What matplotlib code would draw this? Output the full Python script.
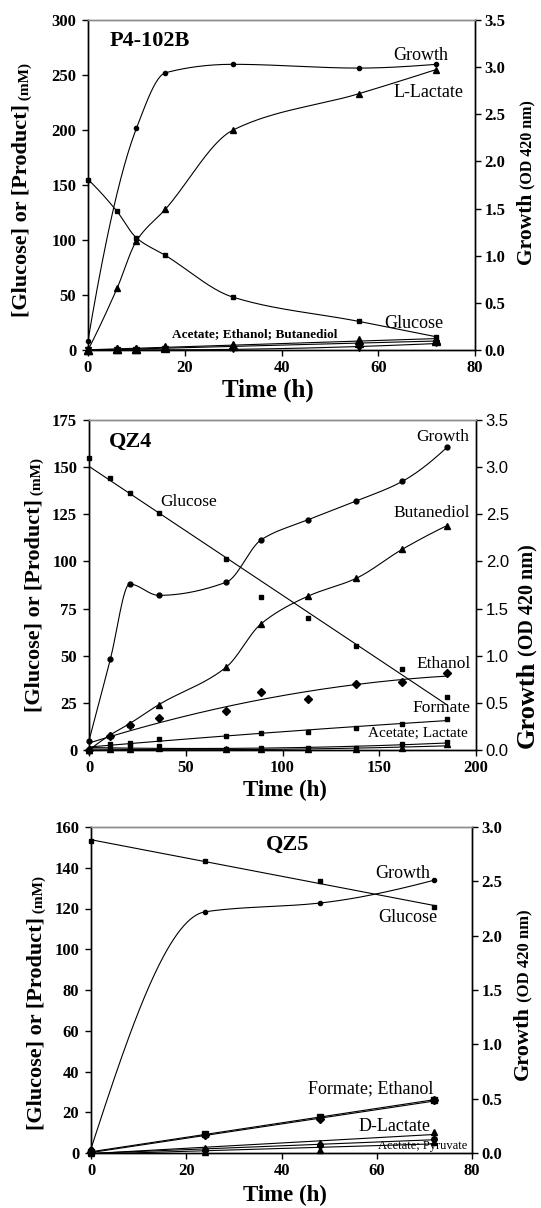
import matplotlib
matplotlib.use('Agg')
import matplotlib.pyplot as plt
import numpy as np

plt.rcParams['font.family'] = ['Liberation Serif', 'DejaVu Serif']

# ---- P4-102B (top) ----
p4_t = [0, 6, 10, 16, 30, 56, 72]
p4_growth_t = [0, 10, 16, 30, 56, 72]
p4_growth = [0.10, 2.35, 2.94, 3.03, 2.99, 3.03]
p4_glucose = [155, 126, 102, 86, 48, 26, 12]
p4_llactate = [0, 56, 99, 128, 200, 233, 255]
p4_acetate = [0, 1.0, 1.2, 2.5, 5.0, 9.0, 9.5]
p4_ethanol = [0, 0.5, 0.6, 1.5, 3.5, 6.5, 8.0]
p4_butanediol = [0, 0.2, 0.3, 0.6, 1.0, 2.0, 6.5]

# ---- QZ4 (middle) ----
qz4_t = [0, 11, 21, 36, 71, 89, 113, 138, 162, 185]
qz4_growth = [0.10, 0.96, 1.76, 1.64, 1.78, 2.23, 2.44, 2.64, 2.85, 3.21]
qz4_glucose = [155, 144, 136.5, 125.5, 101.5, 81, 70, 55, 43, 28]
qz4_butanediol = [0, 8, 14, 24, 44, 67, 81.5, 91, 106.5, 119]
qz4_ethanol = [0, 7.5, 13, 17, 20.5, 30.5, 27, 35, 36, 41]
qz4_formate = [0, 3.0, 3.9, 6.0, 7.6, 9.2, 9.5, 11.8, 14, 16.3]
qz4_acetate = [0, 1.0, 2.0, 2.2, 0.5, 1.0, 1.0, 1.0, 3.3, 4.0]
qz4_lactate = [0, 0.3, 0.5, 0.8, 0.3, 0.5, 0.5, 0.5, 0.8, 3.0]

# ---- QZ5 (bottom) ----
qz5_t = [0, 24, 48, 72]
qz5_growth = [0.04, 2.22, 2.30, 2.51]
qz5_glucose = [153, 143.5, 133.5, 120.5]
qz5_formate = [0.5, 9.2, 17.8, 26]
qz5_ethanol = [0.3, 8.8, 16.5, 25.8]
qz5_dlactate = [0.5, 2.3, 4.7, 10.1]
qz5_acetate = [0.3, 1.5, 3.8, 7.0]
qz5_pyruvate = [0.2, 0.6, 1.5, 5.5]


def pchip(x, y, xs):
    # monotone cubic through the points, only used to draw smooth curves
    x = np.asarray(x, float)
    y = np.asarray(y, float)
    h = np.diff(x)
    d = np.diff(y) / h
    n = len(x)
    m = np.zeros(n)
    for k in range(1, n - 1):
        if d[k - 1] * d[k] > 0:
            w1 = 2 * h[k] + h[k - 1]
            w2 = h[k] + 2 * h[k - 1]
            m[k] = (w1 + w2) / (w1 / d[k - 1] + w2 / d[k])

    def end(h0, h1, d0, d1):
        mm = ((2 * h0 + h1) * d0 - h0 * d1) / (h0 + h1)
        if np.sign(mm) != np.sign(d0):
            mm = 0.0
        elif np.sign(d0) != np.sign(d1) and abs(mm) > abs(3 * d0):
            mm = 3 * d0
        return mm
    m[0] = end(h[0], h[1], d[0], d[1])
    m[-1] = end(h[-1], h[-2], d[-1], d[-2])
    i = np.clip(np.searchsorted(x, xs) - 1, 0, n - 2)
    t = (xs - x[i]) / h[i]
    return ((2 * t**3 - 3 * t**2 + 1) * y[i] + (t**3 - 2 * t**2 + t) * h[i] * m[i]
            + (-2 * t**3 + 3 * t**2) * y[i + 1] + (t**3 - t**2) * h[i] * m[i + 1])


def smooth(ax, x, y, **kw):
    xs = np.linspace(x[0], x[-1], 300)
    ax.plot(xs, pchip(x, y, xs), color='k', lw=0.8, **kw)


def fit(ax, x, y, deg):
    xs = np.linspace(x[0], x[-1], 300)
    ax.plot(xs, np.polyval(np.polyfit(x, y, deg), xs), color='k', lw=0.8)


def pts(ax, x, y, marker, ms):
    ax.plot(x, y, linestyle='none', marker=marker, ms=ms, color='k',
            clip_on=False, zorder=5)


def style(ax, ax2, xticks, yticks, y2ticks, right_sans=False):
    ax.set_xlim(xticks[0], xticks[-1])
    ax.set_ylim(yticks[0], yticks[-1])
    ax2.set_ylim(y2ticks[0], y2ticks[-1])
    ax.set_xticks(xticks)
    ax.set_yticks(yticks)
    ax2.set_yticks(y2ticks)
    ax2.set_yticklabels(['%.1f' % v for v in y2ticks])
    for a in (ax, ax2):
        for s in a.spines.values():
            s.set_linewidth(1.0)
        a.spines['top'].set_color('0.55')
    ax.tick_params(direction='out', length=4.5, width=1.0, pad=3,
                   labelsize=12)
    ax.tick_params(axis='y', pad=4)
    ax2.tick_params(direction='out', length=4.5, width=1.0, pad=2.5,
                    labelsize=12)
    for lab in ax.get_xticklabels() + ax.get_yticklabels():
        lab.set_fontweight('bold')
    for lab in ax2.get_yticklabels():
        if right_sans:
            lab.set_family(['Liberation Sans', 'DejaVu Sans'])
        else:
            lab.set_fontweight('bold')


def xlabel(ax, x, y, size):
    ax.text(x, y, 'Time (h)', transform=ax.transAxes, ha='center',
            va='center', fontsize=size, fontweight='bold')


def ylabels(ax, lx, ly, rx, ry, big=16, small=11, rbig=15, rsmall=11):
    t = ax.text(lx, ly, '[Glucose] or [Product]', transform=ax.transAxes,
                rotation=90, ha='center', va='bottom', fontsize=big,
                fontweight='bold')
    ax.annotate(' (mM)', xy=(1, 1), xycoords=t, rotation=90, ha='right',
                va='bottom', fontsize=small, fontweight='bold')
    t2 = ax.text(rx, ry, 'Growth', transform=ax.transAxes, rotation=90,
                 ha='center', va='bottom', fontsize=rbig, fontweight='bold')
    ax.annotate(' (OD 420 nm)', xy=(1, 1), xycoords=t2, rotation=90,
                ha='right', va='bottom', fontsize=rsmall, fontweight='bold')


fig = plt.figure(figsize=(5.41, 12.08), dpi=100)
W, H = 541.0, 1208.0


def make_axes(l, r, top, bot):
    return fig.add_axes([l / W, 1 - bot / H, (r - l) / W, (bot - top) / H])


# top panel
ax = make_axes(88, 475, 20, 350)
ax2 = ax.twinx()
smooth(ax, p4_t, p4_glucose)
smooth(ax, p4_t, p4_llactate)
fit(ax, p4_t, p4_acetate, 1)
fit(ax, p4_t, p4_ethanol, 1)
fit(ax, p4_t, p4_butanediol, 2)
pts(ax, p4_t, p4_glucose, 's', 3)
pts(ax, p4_t, p4_llactate, '^', 4.5)
pts(ax, p4_t, p4_acetate, '^', 6)
pts(ax, p4_t, p4_ethanol, '^', 6)
pts(ax, p4_t, p4_butanediol, 'v', 5)
smooth(ax2, p4_growth_t, p4_growth)
pts(ax2, p4_growth_t, p4_growth, 'o', 3)
style(ax, ax2, [0, 20, 40, 60, 80], [0, 50, 100, 150, 200, 250, 300],
      [0, 0.5, 1.0, 1.5, 2.0, 2.5, 3.0, 3.5])
ax.text(0.057, 0.936, 'P4-102B', transform=ax.transAxes, fontsize=16,
        fontweight='bold', va='center')
ax.text(68.8, 268, 'Growth', fontsize=13, ha='center', va='center')
ax.text(70.3, 234.5, 'L-Lactate', fontsize=13, ha='center', va='center')
ax.text(67.4, 24.5, 'Glucose', fontsize=13, ha='center', va='center')
ax.text(34.4, 14.5, 'Acetate; Ethanol; Butanediol', fontsize=9.5,
        fontweight='bold', ha='center', va='center')
xlabel(ax, 0.465, -0.121, 18)
ylabels(ax, -0.171, 0.10, 1.132, 0.26, rbig=15.5, rsmall=11.5)

# middle panel
ax = make_axes(89, 476, 420, 750)
ax2 = ax.twinx()
fit(ax, qz4_t, qz4_glucose, 1)
smooth(ax, qz4_t, qz4_butanediol)
fit(ax, qz4_t, qz4_ethanol, 2)
fit(ax, qz4_t, qz4_formate, 2)
fit(ax, qz4_t, qz4_acetate, 2)
fit(ax, qz4_t, qz4_lactate, 2)
pts(ax, qz4_t, qz4_glucose, 's', 3.5)
pts(ax, qz4_t, qz4_butanediol, '^', 5)
pts(ax, qz4_t, qz4_ethanol, 'D', 4)
pts(ax, qz4_t, qz4_formate, 's', 3.5)
pts(ax, qz4_t, qz4_acetate, 's', 3.5)
pts(ax, qz4_t, qz4_lactate, '^', 4)
smooth(ax2, qz4_t, qz4_growth)
pts(ax2, qz4_t, qz4_growth, 'o', 3.5)
style(ax, ax2, [0, 50, 100, 150, 200], [0, 25, 50, 75, 100, 125, 150, 175],
      [0, 0.5, 1.0, 1.5, 2.0, 2.5, 3.0, 3.5], right_sans=True)
ax.text(0.052, 0.933, 'QZ4', transform=ax.transAxes, fontsize=16,
        fontweight='bold', va='center')
ax.text(183, 166, 'Growth', fontsize=12.5, ha='center', va='center')
ax.text(51.7, 131.5, 'Glucose', fontsize=12.5, ha='center', va='center')
ax.text(177, 125.7, 'Butanediol', fontsize=12.5, ha='center', va='center')
ax.text(183, 45.6, 'Ethanol', fontsize=12.5, ha='center', va='center')
ax.text(182.4, 22.3, 'Formate', fontsize=12.5, ha='center', va='center')
ax.text(170, 9, 'Acetate; Lactate', fontsize=11, ha='center', va='center')
xlabel(ax, 0.506, -0.124, 16.5)
ylabels(ax, -0.142, 0.115, 1.132, 0.005, rbig=19, rsmall=14.5)

# bottom panel
ax = make_axes(91, 472, 827, 1153)
ax2 = ax.twinx()
fit(ax, qz5_t, qz5_glucose, 1)
fit(ax, qz5_t, qz5_formate, 1)
fit(ax, qz5_t, qz5_ethanol, 1)
fit(ax, qz5_t, qz5_dlactate, 1)
fit(ax, qz5_t, qz5_acetate, 1)
fit(ax, qz5_t, qz5_pyruvate, 1)
pts(ax, qz5_t, qz5_glucose, 's', 3)
pts(ax, qz5_t, qz5_formate, 's', 4)
pts(ax, qz5_t, qz5_ethanol, 'D', 4)
pts(ax, qz5_t, qz5_dlactate, '^', 5)
pts(ax, qz5_t, qz5_acetate, 'o', 4)
pts(ax, qz5_t, qz5_pyruvate, '^', 4)
smooth(ax2, qz5_t, qz5_growth)
pts(ax2, qz5_t, qz5_growth, 'o', 3)
style(ax, ax2, [0, 20, 40, 60, 80], [0, 20, 40, 60, 80, 100, 120, 140, 160],
      [0, 0.5, 1.0, 1.5, 2.0, 2.5, 3.0])
ax.text(0.517, 0.945, 'QZ5', transform=ax.transAxes, fontsize=16,
        fontweight='bold', ha='center', va='center')
ax.text(65.5, 137.4, 'Growth', fontsize=13, ha='center', va='center')
ax.text(66.5, 115.8, 'Glucose', fontsize=13, ha='center', va='center')
ax.text(58.8, 31.4, 'Formate; Ethanol', fontsize=13, ha='center',
        va='center')
ax.text(63.8, 12.8, 'D-Lactate', fontsize=13, ha='center', va='center')
ax.text(69.7, 3.4, 'Acetate; Pyruvate', fontsize=9, ha='center',
        va='center', clip_on=False)
xlabel(ax, 0.51, -0.129, 16.5)
ylabels(ax, -0.144, 0.07, 1.134, 0.224, rbig=16, rsmall=12)

fig.savefig('out.png', dpi=100)
